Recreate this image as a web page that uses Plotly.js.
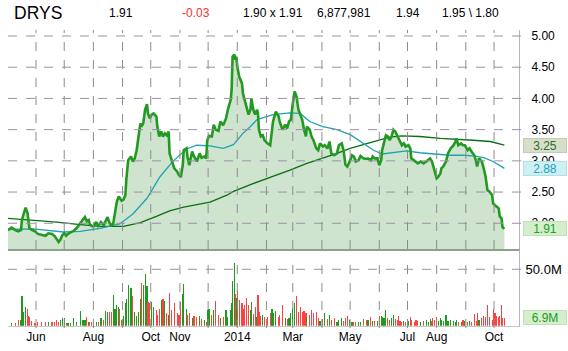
<!DOCTYPE html>
<html>
<head>
<meta charset="utf-8">
<script src="https://cdn.plot.ly/plotly-3.0.1.min.js"></script>
<style>html,body{margin:0;padding:0;background:#fff;}#chart{width:568px;height:351px;}</style>
</head>
<body>
<div id="chart"></div>
<script>
// ---------------- data ----------------
const dates = [
'2013-05-02','2013-05-06','2013-05-10','2013-05-13','2013-05-16','2013-05-17','2013-05-19','2013-05-21','2013-05-23','2013-05-24',
'2013-05-25','2013-05-27','2013-05-31','2013-06-03','2013-06-07','2013-06-11','2013-06-14','2013-06-18','2013-06-21','2013-06-23',
'2013-06-25','2013-06-27','2013-06-29','2013-07-01','2013-07-03','2013-07-05','2013-07-08','2013-07-11','2013-07-14','2013-07-18',
'2013-07-21','2013-07-23','2013-07-25','2013-07-27','2013-07-28','2013-07-30','2013-08-01','2013-08-04','2013-08-06','2013-08-09',
'2013-08-12','2013-08-14','2013-08-16','2013-08-18','2013-08-20','2013-08-22','2013-08-24','2013-08-26','2013-08-28','2013-08-29',
'2013-08-31','2013-09-02','2013-09-04','2013-09-05','2013-09-07','2013-09-10','2013-09-12','2013-09-14','2013-09-16','2013-09-18',
'2013-09-20','2013-09-21','2013-09-23','2013-09-25','2013-09-27','2013-09-28','2013-09-30','2013-10-02','2013-10-04','2013-10-07',
'2013-10-08','2013-10-10','2013-10-12','2013-10-14','2013-10-16','2013-10-18','2013-10-20','2013-10-21','2013-10-23','2013-10-26',
'2013-10-29','2013-10-31','2013-11-02','2013-11-04','2013-11-05','2013-11-08','2013-11-09','2013-11-11','2013-11-14','2013-11-16',
'2013-11-19','2013-11-22','2013-11-24','2013-11-27','2013-11-29','2013-11-30','2013-12-02','2013-12-05','2013-12-07','2013-12-09',
'2013-12-12','2013-12-14','2013-12-17','2013-12-20','2013-12-22','2013-12-25','2013-12-26','2013-12-27','2013-12-29','2013-12-30',
'2013-12-31','2014-01-01','2014-01-03','2014-01-06','2014-01-07','2014-01-09','2014-01-11','2014-01-13','2014-01-15','2014-01-16',
'2014-01-18','2014-01-20','2014-01-22','2014-01-23','2014-01-24','2014-01-26','2014-01-28','2014-01-30','2014-02-02','2014-02-05',
'2014-02-07','2014-02-08','2014-02-11','2014-02-14','2014-02-15','2014-02-18','2014-02-21','2014-02-23','2014-02-25','2014-02-27',
'2014-03-01','2014-03-03','2014-03-05','2014-03-07','2014-03-09','2014-03-11','2014-03-13','2014-03-15','2014-03-16','2014-03-19',
'2014-03-21','2014-03-23','2014-03-26','2014-03-28','2014-03-30','2014-04-02','2014-04-04','2014-04-07','2014-04-09','2014-04-11',
'2014-04-14','2014-04-17','2014-04-19','2014-04-22','2014-04-24','2014-04-26','2014-04-28','2014-04-30','2014-05-03','2014-05-05',
'2014-05-07','2014-05-10','2014-05-12','2014-05-15','2014-05-18','2014-05-20','2014-05-23','2014-05-25','2014-05-27','2014-05-30',
'2014-06-01','2014-06-03','2014-06-04','2014-06-06','2014-06-08','2014-06-10','2014-06-12','2014-06-14','2014-06-16','2014-06-18',
'2014-06-20','2014-06-21','2014-06-23','2014-06-25','2014-06-27','2014-06-29','2014-07-02','2014-07-04','2014-07-05','2014-07-08',
'2014-07-10','2014-07-12','2014-07-15','2014-07-18','2014-07-21','2014-07-23','2014-07-25','2014-07-27','2014-07-28','2014-07-30',
'2014-08-01','2014-08-03','2014-08-05','2014-08-06','2014-08-08','2014-08-11','2014-08-13','2014-08-16','2014-08-19','2014-08-21',
'2014-08-22','2014-08-24','2014-08-27','2014-08-29','2014-08-31','2014-09-03','2014-09-05','2014-09-07','2014-09-10','2014-09-12',
'2014-09-13','2014-09-15','2014-09-18','2014-09-20','2014-09-22','2014-09-24','2014-09-26','2014-09-29','2014-09-30','2014-10-02',
'2014-10-04','2014-10-06','2014-10-07','2014-10-09','2014-10-10','2014-10-12'
];
const close = [
1.89,1.93,1.89,1.87,1.89,2.05,2.16,2.25,2.16,2.05,
1.92,1.90,1.87,1.83,1.81,1.80,1.84,1.83,1.79,1.74,
1.70,1.74,1.81,1.84,1.80,1.83,1.85,1.88,1.92,2.00,
2.06,2.10,2.03,2.05,1.99,1.96,1.95,2.02,1.96,2.02,
1.97,2.03,2.10,2.01,1.97,1.99,2.20,2.35,2.43,2.40,
2.36,2.38,2.45,2.70,3.01,3.07,2.99,3.04,3.17,3.39,
3.60,3.55,3.60,3.82,3.91,3.76,3.68,3.74,3.76,3.71,
3.55,3.39,3.47,3.39,3.44,3.41,3.47,3.12,3.01,2.88,
2.83,2.77,2.74,2.93,3.17,3.20,3.07,2.93,3.15,3.07,
2.99,3.12,3.05,3.07,3.04,3.32,3.40,3.39,3.58,3.50,
3.48,3.63,3.57,3.68,3.82,3.98,4.14,4.67,4.70,4.62,
4.67,4.51,4.35,4.24,4.08,3.98,3.88,3.74,3.82,4.00,
3.82,3.74,3.82,3.76,3.50,3.39,3.41,3.33,3.28,3.25,
3.50,3.63,3.79,3.71,3.63,3.50,3.58,3.52,3.63,3.66,
3.92,4.11,4.03,3.82,3.74,3.66,3.50,3.39,3.55,3.50,
3.39,3.33,3.20,3.17,3.28,3.23,3.25,3.20,3.31,3.12,
3.09,3.12,3.25,3.28,3.17,2.94,2.91,2.97,3.09,3.07,
2.99,3.01,3.08,3.04,3.03,3.04,3.01,3.07,3.04,3.04,
2.93,3.01,3.17,3.28,3.41,3.39,3.33,3.39,3.50,3.47,
3.41,3.39,3.31,3.25,3.28,3.23,3.25,3.20,3.04,3.01,
2.99,2.96,2.99,2.96,2.99,3.01,3.04,2.99,2.93,2.85,
2.72,2.75,2.80,2.88,2.91,2.99,3.12,3.20,3.25,3.31,
3.36,3.25,3.28,3.25,3.25,3.17,3.20,3.15,3.09,2.99,
2.91,3.04,2.99,2.88,2.75,2.53,2.51,2.45,2.32,2.29,
2.27,2.24,2.11,2.08,1.94,1.91
];
// volume in millions of shares
const volume = [
3,2,2,5,5,26,12,17,15,9,
8,4,2,3,3,3,3,3,3,5,
3,5,7,7,2,2,2,6.5,3,13,
5,5,8,3.5,3.5,3.5,3.5,3.5,3.5,7,
5,13,12,12,12,27,15,18,17,15,
5,9,20,24,36,33,26,12,9,12,
24,38,36,45.5,35,21,20,21,17,14,
9.5,15,23,24,22,11,9.5,29,14,20,
11,9.5,21,28,37,15,9.5,11,7,8.5,
8,8.5,6,5,3.5,14,15,9.5,14,22,
9.5,6.5,8,14,8,14,20,40,56,28,
25,31,23,20,15,18,25,18,14,21,
10,17,8,27,12,9,9.5,8,8,11,
15,11,13,8,9.5,18,6.5,6,7,11,
16,20,26,12,17,12,13,11,8,9.5,
14,11,12,6.5,4,6,11,6,9.5,5,
6.5,3.5,5,6.5,4,6.5,9,5,3,3,
3,3.5,3.5,6,5,5,8,4,4,4,
8.5,8.5,8,7,14,7,5,6.5,9.5,6,
5,9,4,3.5,4,3,4,8,5,3.5,
5,4,3.5,4,5,3.5,6,4,7,5,
8,4,6.5,5,4,9.5,4,5,4,3,
5,3,3.5,5,4,3.5,4,3.5,10,4,
11,5,7,9,8,18,8,5,15,11,
9,8,9,18,7,6.877981
];
const ma50Dates = ['2013-05-02','2013-05-29','2013-06-30','2013-07-18','2013-08-08','2013-08-29','2013-09-12','2013-09-27','2013-10-11','2013-10-25','2013-11-08','2013-11-19','2013-12-03','2013-12-17','2013-12-28','2014-01-07','2014-01-15','2014-01-22','2014-02-08','2014-02-26','2014-03-09','2014-03-19','2014-04-02','2014-04-17','2014-05-01','2014-05-15','2014-05-26','2014-06-04','2014-06-16','2014-06-30','2014-07-14','2014-08-01','2014-08-15','2014-08-29','2014-09-09','2014-09-20','2014-09-30','2014-10-12'];
const ma50 = [1.90,1.91,1.86,1.87,1.92,1.99,2.15,2.40,2.75,3.00,3.19,3.25,3.24,3.20,3.26,3.44,3.55,3.66,3.74,3.77,3.76,3.63,3.55,3.50,3.42,3.28,3.17,3.11,3.13,3.16,3.13,3.11,3.09,3.09,3.08,3.05,2.99,2.88];
const ma200Dates = ['2013-05-02','2013-05-29','2013-06-23','2013-07-18','2013-08-08','2013-09-02','2013-09-20','2013-10-07','2013-10-21','2013-11-05','2013-11-22','2013-12-03','2013-12-21','2013-12-28','2014-01-15','2014-02-08','2014-02-26','2014-03-16','2014-04-02','2014-04-17','2014-05-01','2014-05-12','2014-05-30','2014-06-12','2014-06-25','2014-07-14','2014-08-05','2014-08-22','2014-09-09','2014-09-27','2014-10-12'];
const ma200 = [2.08,2.05,2.02,1.98,1.95,1.95,2.01,2.11,2.20,2.26,2.31,2.34,2.45,2.51,2.62,2.75,2.85,2.96,3.04,3.12,3.20,3.25,3.32,3.38,3.40,3.39,3.36,3.35,3.33,3.31,3.25];

const monthTicks = ['2013-06-01','2013-07-01','2013-08-01','2013-09-01','2013-10-01','2013-11-01','2013-12-01','2014-01-01','2014-02-01','2014-03-01','2014-04-01','2014-05-01','2014-06-01','2014-07-01','2014-08-01','2014-09-01','2014-10-01'];
const monthLabels = ['Jun','','Aug','','Oct','Nov','','2014','','Mar','','May','','Jul','Aug','','Oct'];
const priceTicks = [2.0,2.5,3.0,3.5,4.0,4.5,5.0];
const volTicks = [50];
const volTickLabels = ['50.0M'];

const symbol = 'DRYS';
const lastPrice = '1.91';
const change = '-0.03';
const bidAsk = '1.90 x 1.91';
const dayVolume = '6,877,981';
const openPrice = '1.94';
const highLow = '1.95 \\ 1.80';
const lastMA200 = 3.25, lastMA50 = 2.88, lastClose = 1.91, lastVolume = 6.877981;

// ---------------- layout helpers ----------------
const W = 568, H = 351;
const px = x => x / W;
const py = y => 1 - y / H;
const FONT = 'Liberation Sans, Arial, sans-serif';
const xRange = ['2013-05-02 05:00', '2014-10-27 13:00'];
const n = Math.min(dates.length, close.length, volume.length);
const d = dates.slice(0, n), c = close.slice(0, n), v = volume.slice(0, n);
const barColors = c.map((val, i) => (i === 0 || val >= c[i - 1]) ? '#1f9a1f' : '#ff4040');

const GRID_V = '#8c8c8c';
const GRID_H = '#9c90a8';
const DASH = 'dash';

const traces = [
  {x: d, y: c, type: 'scatter', mode: 'lines', fill: 'tozeroy', fillcolor: 'rgba(160,202,160,0.5)',
   line: {width: 0, color: 'rgba(0,0,0,0)'}, xaxis: 'x', yaxis: 'y', hoverinfo: 'skip'},
  {x: ma200Dates, y: ma200, type: 'scatter', mode: 'lines', line: {color: '#0b6e12', width: 1.3}, xaxis: 'x', yaxis: 'y'},
  {x: ma50Dates, y: ma50, type: 'scatter', mode: 'lines', line: {color: '#1ea2b4', width: 1.3}, xaxis: 'x', yaxis: 'y'},
  {x: d, y: c, type: 'scatter', mode: 'lines', line: {color: '#229a22', width: 2.6}, xaxis: 'x', yaxis: 'y'},
  {x: d, y: v, type: 'bar', marker: {color: barColors, line: {width: 0}}, width: 1.25 * 86400000,
   xaxis: 'x2', yaxis: 'y2'}
];

// dashed grid drawn as shapes so the extents match the reference
const shapes = [];
monthTicks.forEach(t => {
  shapes.push({type: 'line', xref: 'x', yref: 'paper', x0: t, x1: t, y0: py(249), y1: py(30),
               line: {color: GRID_V, width: 1, dash: DASH}, layer: 'above'});
  shapes.push({type: 'line', xref: 'x2', yref: 'paper', x0: t, x1: t, y0: py(328), y1: py(259),
               line: {color: GRID_V, width: 1, dash: DASH}, layer: 'above'});
});
priceTicks.forEach(p => {
  shapes.push({type: 'line', xref: 'paper', yref: 'y', x0: px(8), x1: px(523), y0: p, y1: p,
               line: {color: GRID_H, width: 1, dash: DASH}, layer: 'above'});
});
volTicks.forEach(p => {
  shapes.push({type: 'line', xref: 'paper', yref: 'y2', x0: px(8), x1: px(523), y0: p, y1: p,
               line: {color: GRID_H, width: 1, dash: DASH}, layer: 'above'});
});

function hdr(text, x, color, size) {
  return {xref: 'paper', yref: 'paper', x: px(x), y: py(13), xanchor: 'left', yanchor: 'middle',
          text: text, showarrow: false, font: {family: FONT, size: size || 12, color: color || '#000'}};
}
function box(text, yref, y, color, bg, border) {
  return {xref: 'paper', yref: yref, x: px(545), y: y, xanchor: 'center', yanchor: 'middle',
          text: text, showarrow: false, font: {family: FONT, size: 12, color: color},
          bgcolor: bg, bordercolor: border, borderwidth: 1, borderpad: 1, width: 40, height: 11};
}

const annotations = [
  hdr(symbol, 12, '#000', 17.5),
  hdr(lastPrice, 107),
  hdr(change, 180, '#ff3030'),
  hdr(bidAsk, 241),
  hdr(dayVolume, 315),
  hdr(openPrice, 394),
  hdr(highLow, 440),
  box(lastMA200.toFixed(2), 'y', lastMA200, '#2f6b2f', '#d6dfc8', '#c2ccb4'),
  box(lastMA50.toFixed(2), 'y', lastMA50, '#1ea3b6', '#ccf0f4', '#b4e0e4'),
  box(lastClose.toFixed(2), 'y', lastClose, '#22a022', '#d3efcc', '#bfe0b8'),
  box(lastVolume.toFixed(1) + 'M', 'y2', lastVolume, '#1f9a1f', '#d3efcc', '#bfe0b8')
];

const layout = {
  width: W, height: H, margin: {l: 0, r: 0, t: 0, b: 0}, showlegend: false,
  paper_bgcolor: '#fff', plot_bgcolor: '#fff', font: {family: FONT, size: 12, color: '#000'},
  bargap: 0,
  xaxis: {domain: [px(8), px(519)], range: xRange, type: 'date', anchor: 'y',
          tickvals: monthTicks, showticklabels: false, ticks: '', showgrid: false,
          showline: true, linecolor: '#8fa08f', linewidth: 1.5, zeroline: false, fixedrange: true},
  yaxis: {domain: [py(249), py(30)], range: [1.588, 5.096], side: 'right', anchor: 'x',
          tickvals: priceTicks, tickformat: '.2f', ticks: '', showgrid: false,
          showline: true, linecolor: '#b4b4c4', linewidth: 1, zeroline: false,
          tickfont: {size: 12, color: '#000'}, ticklabelstandoff: 9, fixedrange: true},
  xaxis2: {domain: [px(8), px(519)], range: xRange, type: 'date', anchor: 'y2',
           tickvals: monthTicks, ticktext: monthLabels, ticks: '', showgrid: false,
           showline: true, linecolor: '#c8c8c8', linewidth: 1, zeroline: false,
           tickfont: {size: 12, color: '#000'}, fixedrange: true},
  yaxis2: {domain: [py(325.7), py(250)], range: [0, 67.1], side: 'right', anchor: 'x2',
           tickvals: volTicks, ticktext: volTickLabels, ticks: '', showgrid: false,
           showline: true, linecolor: '#b4b4c4', linewidth: 1, zeroline: false,
           tickfont: {size: 13, color: '#000'}, ticklabelstandoff: 3, fixedrange: true},
  shapes: shapes,
  annotations: annotations
};

Plotly.newPlot('chart', traces, layout, {staticPlot: true, displayModeBar: false});
</script>
</body>
</html>
